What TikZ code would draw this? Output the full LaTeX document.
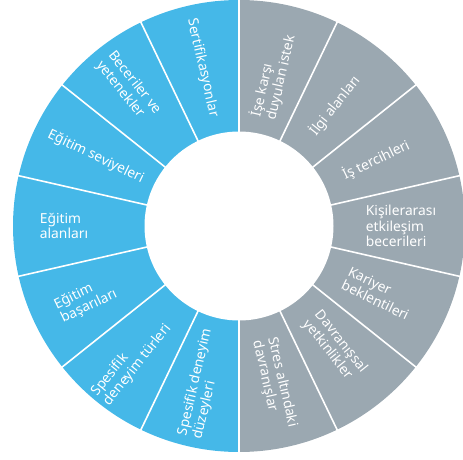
\documentclass[tikz,border=0pt]{standalone}
\usepackage{fontspec}
\setmainfont{Noto Sans}
\definecolor{ringblue}{HTML}{45B8E8}
\definecolor{ringgray}{HTML}{9BA8B1}
\tikzset{
  divider/.style={white, line width=1.6pt},
  lbl/.style={text=white, align=left, inner sep=0pt, font=\fontsize{13.8}{15.4}\selectfont}
}
\begin{document}
\begin{tikzpicture}[x=1pt,y=1pt]
\useasboundingbox (0,0) rectangle (463,459);
\coordinate (c) at (239,233);
\fill[ringblue] (c) -- ++(90:226) arc[start angle=90,end angle=270,radius=226] -- cycle;
\fill[ringgray] (c) -- ++(-90:226) arc[start angle=-90,end angle=90,radius=226] -- cycle;
\foreach \k in {0,...,13} \draw[divider] (c) -- ++({90+\k*360/14}:230);
\fill[white] (c) circle[radius=94.5];
% left (blue) labels
\node[lbl, rotate=-77.14] (b1) at ([shift={(102.86:162)}]c) {Sertifikasyonlar};
\node[lbl, rotate=-51.43] (b2) at ([shift={(128.57:177)}]c) {Beceriler ve\\yetenekler};
\node[lbl, rotate=-25.71] (b3) at ([shift={(154.29:159)}]c) {Eğitim seviyeleri};
\node[lbl, rotate=0] (b4) at ([shift={(180:175)}]c) {Eğitim\\alanları};
\node[lbl, rotate=25.71] (b5) at ([shift={(205.71:170)}]c) {Eğitim\\başarıları};
\node[lbl, rotate=51.43] (b6) at ([shift={(231.43:172)}]c) {Spesifik\\deneyim türleri};
\node[lbl, rotate=77.14] (b7) at ([shift={(257.14:162)}]c) {Spesifik deneyim\\düzeyleri};
% right (gray) labels
\node[lbl, rotate=77.14] (g1) at ([shift={(77.14:154)}]c) {İşe karşı\\duyulan istek};
\node[lbl, rotate=51.43] (g2) at ([shift={(51.43:154)}]c) {İlgi alanları};
\node[lbl, rotate=25.71] (g3) at ([shift={(25.71:152)}]c) {İş tercihleri};
\node[lbl, rotate=0] (g4) at ([shift={(0:162)}]c) {Kişilerarası\\etkileşim\\becerileri};
\node[lbl, rotate=-25.71] (g5) at ([shift={(-25.71:155)}]c) {Kariyer\\beklentileri};
\node[lbl, rotate=-51.43] (g6) at ([shift={(-51.43:154)}]c) {Davranışsal\\yetkinlikler};
\node[lbl, rotate=-77.14] (g7) at ([shift={(-77.14:162)}]c) {Stres altındaki\\davranışlar};
\end{tikzpicture}
\end{document}
